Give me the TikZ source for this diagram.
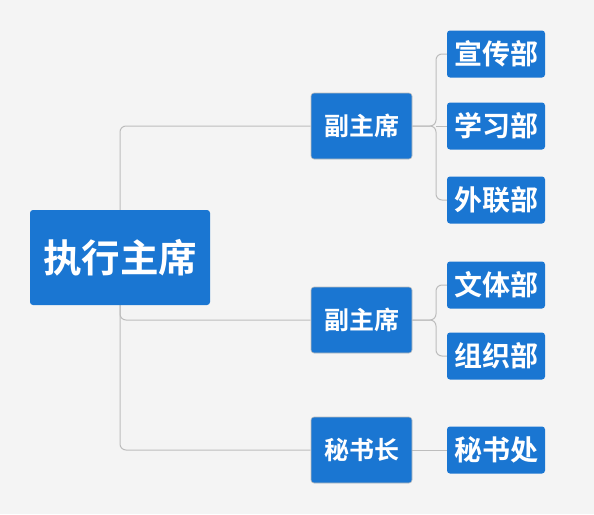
\documentclass[tikz,border=0pt]{standalone}
\usepackage{fontspec}
\newfontfamily\cjk{Noto Sans CJK SC}[BoldFont={Noto Sans CJK SC Bold}]
\usetikzlibrary{backgrounds}
\definecolor{nodeblue}{HTML}{1A76D2}
\definecolor{bgc}{HTML}{F4F4F4}
\definecolor{linec}{HTML}{BDBDBD}
\tikzset{
  box/.style={fill=nodeblue, text=white, rounded corners=3pt, inner sep=0pt, font=\cjk\bfseries},
  rootbox/.style={box, minimum width=180pt, minimum height=95pt, font=\cjk\bfseries\fontsize{38.5}{42}\selectfont},
  midbox/.style={box, draw=linec, line width=0.6pt, minimum width=101pt, minimum height=66pt, font=\cjk\bfseries\fontsize{25}{28}\selectfont},
  leafbox/.style={box, minimum width=98pt, minimum height=47pt, font=\cjk\bfseries\fontsize{28}{32}\selectfont},
  conn/.style={draw=linec, line width=1pt, rounded corners=6pt}
}
\begin{document}
\begin{tikzpicture}[x=1pt,y=-1pt]
\useasboundingbox (0,0) rectangle (594,514);
\node[rootbox] (root) at (120,257.5) {执行主席};
\node[midbox] (v1) at (361.5,126) {副主席};
\node[midbox] (v2) at (361.5,320) {副主席};
\node[midbox] (s) at (361.5,450) {秘书长};
\node[leafbox] (a1) at (496,54) {宣传部};
\node[leafbox] (a2) at (496,126) {学习部};
\node[leafbox] (a3) at (496,200) {外联部};
\node[leafbox] (b1) at (496,285) {文体部};
\node[leafbox] (b2) at (496,356) {组织部};
\node[leafbox] (c1) at (496,450) {秘书处};
\coordinate (ja) at (436,126);
\coordinate (jb) at (436,320);
\begin{pgfonlayer}{background}
\fill[bgc] (0,0) rectangle (594,514);
\draw[conn] (root.center) |- (v1.west);
\draw[conn] (root.center) |- (v2.west);
\draw[conn] (root.center) |- (s.west);
\draw[conn] (v1.east) -- (ja) |- (a1.west);
\draw[conn] (ja) -- (a2.west);
\draw[conn] (v1.east) -- (ja) |- (a3.west);
\draw[conn] (v2.east) -- (jb) |- (b1.west);
\draw[conn] (v2.east) -- (jb) |- (b2.west);
\draw[conn] (s.east) -- (c1.west);
\end{pgfonlayer}
\end{tikzpicture}
\end{document}
